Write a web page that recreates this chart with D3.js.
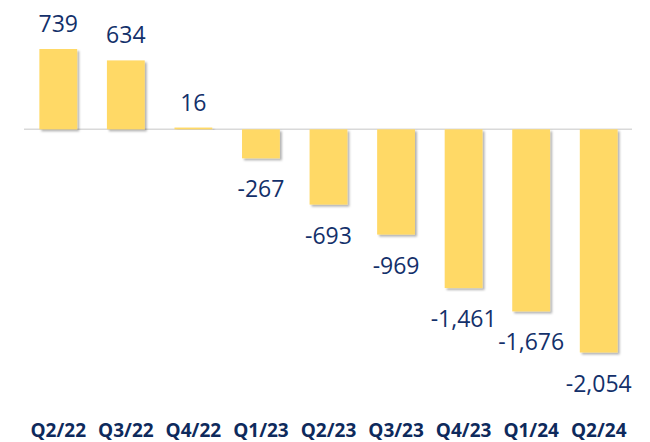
<!DOCTYPE html>
<html><head><meta charset="utf-8">
<script src="https://cdn.jsdelivr.net/npm/d3@7"></script>
<style>body{margin:0;background:#fff}svg{display:block}</style>
</head><body><svg id="c" width="650" height="442"></svg>
<script>
const categories = ["Q2/22","Q3/22","Q4/22","Q1/23","Q2/23","Q3/23","Q4/23","Q1/24","Q2/24"];
const values = [739, 634, 16, -267, -693, -969, -1461, -1676, -2054];

const svg = d3.select("#c");
const defs = svg.append("defs");
const f = defs.append("filter").attr("id","sh").attr("x","-20%").attr("y","-20%").attr("width","150%").attr("height","150%");
f.append("feDropShadow").attr("dx",2).attr("dy",2).attr("stdDeviation",1).attr("flood-color","#000").attr("flood-opacity",0.3);

const x = d3.scaleBand().domain(categories).range([24.5, 632.5]).paddingInner(0.44).paddingOuter(0.22);
const y = d3.scaleLinear().domain([-2054, 739]).range([352.5, 49]);

svg.append("line").attr("x1",24).attr("x2",632).attr("y1",y(0)).attr("y2",y(0))
  .attr("stroke","#d9d9d9").attr("stroke-width",1.5);

svg.append("g").selectAll("rect").data(values).join("rect")
  .attr("x",(d,i)=>x(categories[i]))
  .attr("width",x.bandwidth())
  .attr("y",d=>Math.min(y(d),y(0)))
  .attr("height",d=>Math.max(1.5,Math.abs(y(d)-y(0))))
  .attr("fill","#FFD966")
  .attr("filter","url(#sh)");

const fmt = d3.format(",");
svg.append("g").selectAll("text").data(values).join("text")
  .attr("x",(d,i)=>x(categories[i])+x.bandwidth()/2)
  .attr("y",d=> d>=0 ? y(d)-17 : y(d)+39)
  .attr("text-anchor","middle")
  .attr("font-family","'Open Sans', sans-serif")
  .attr("font-size",23)
  .attr("fill","#13306a")
  .text(d=>fmt(d).replace("−","-"));

svg.append("g").selectAll("text").data(categories).join("text")
  .attr("x",d=>x(d)+x.bandwidth()/2)
  .attr("y",437)
  .attr("text-anchor","middle")
  .attr("font-family","'Open Sans', sans-serif")
  .attr("font-weight","bold")
  .attr("font-size",19)
  .attr("fill","#0e2a5c")
  .text(d=>d);
</script></body></html>
